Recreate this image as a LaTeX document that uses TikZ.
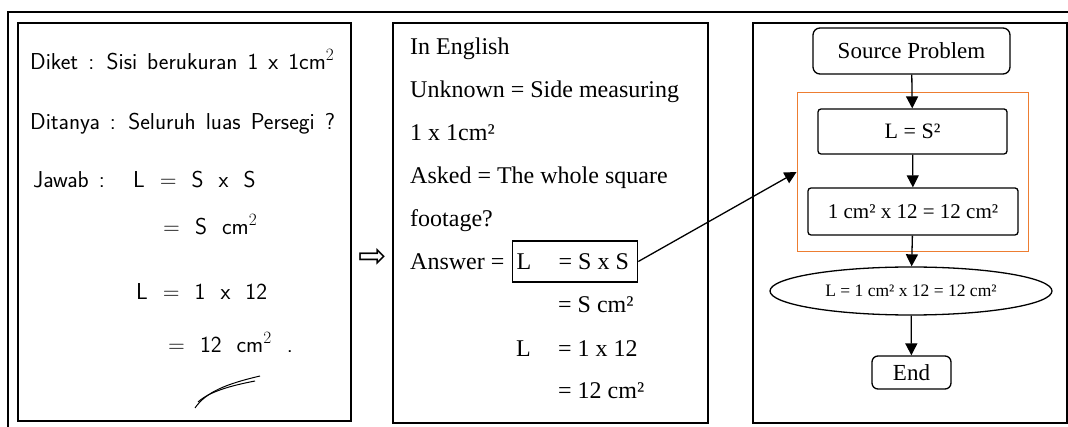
\documentclass[tikz,border=0pt]{standalone}
\usepackage{fontspec}
\setmainfont{Liberation Serif}
\newfontfamily\symfont{DejaVu Sans}
\usepackage{xcolor}
\usetikzlibrary{arrows.meta, shapes.geometric, fit}
\definecolor{grporange}{RGB}{237,125,49}
\tikzset{
  panel/.style={rectangle, draw, line width=1.5pt, inner sep=0pt},
  hand/.style={anchor=base west, inner sep=0pt,
               font=\sffamily\fontsize{23}{23}\selectfont,
               execute at begin node={\spaceskip=10pt\relax}},
  handmath/.style={hand, execute at begin node={\spaceskip=15pt\relax}},
  txt/.style={anchor=base west, inner sep=0pt, font=\fontsize{24}{24}\selectfont},
  term/.style={rectangle, draw, rounded corners=7pt, line width=1.3pt, inner sep=0pt,
               font=\fontsize{23}{23}\selectfont},
  proc/.style={rectangle, draw, rounded corners=3pt, line width=1.3pt, inner sep=0pt,
               font=\fontsize{22}{22}\selectfont},
  res/.style={ellipse, draw, line width=1.3pt, inner sep=0pt, minimum width=282pt,
              minimum height=48pt, font=\fontsize{17.5}{17.5}\selectfont},
  arc/.style={-{Triangle[width=12pt,length=12pt]}, line width=1.3pt}
}
\begin{document}
\begin{tikzpicture}[x=1pt, y=-1pt]
  \useasboundingbox (0,0) rectangle (1068,427);
  \draw[line width=1.3pt] (8,427) -- (8,12) -- (1068,12);
  % three panels
  \node[panel, minimum width=333pt, minimum height=398pt] (hw) at (184.5,222) {};
  \node[panel, minimum width=315pt, minimum height=400pt] (en) at (550.5,223) {};
  \node[panel, minimum width=314pt, minimum height=400pt] (fc) at (910,223) {};
  % handwritten answer
  \node[hand] (h1) at (30,70) {Diket : Sisi berukuran 1 x 1cm$^2$};
  \node[hand] (h2) at (30,130) {Ditanya : Seluruh luas Persegi ?};
  \node[hand] (h3) at (33,188) {Jawab :};
  \node[handmath] (h3b) at (133,188) {L = S x S};
  \node[handmath] (h4) at (163,235) {= S cm$^2$};
  \node[handmath] (h5) at (136,300) {L = 1 x 12};
  \node[handmath] (h6) at (168,353) {= 12 cm$^2$ .};
  \draw[line width=1pt] (195,408) .. controls (206,392) and (226,384) .. (260,376);
  \draw[line width=1pt] (198,402) .. controls (209,392) and (229,386) .. (255,381);
  \node[inner sep=0pt, font=\symfont\fontsize{34}{34}\selectfont] (imp) at (373,258) {⇨};
  % translation
  \node[txt] (e1) at (410,55) {In English};
  \node[txt] (e2) at (410,98) {Unknown = Side measuring};
  \node[txt] (e3) at (410,141) {1 x 1cm²};
  \node[txt] (e4) at (410,184) {Asked = The whole square};
  \node[txt] (e5) at (410,227) {footage?};
  \node[txt] (e6) at (410,270) {Answer =};
  \node[txt, draw, line width=1.3pt, inner xsep=4pt, inner ysep=0pt, text height=29pt,
        text depth=12pt] (ans) at (512,270) {\makebox[117pt][l]{\makebox[42pt][l]{L}= S x S}};
  \node[txt] (e7) at (558,313) {= S cm²};
  \node[txt] (e8a) at (516,356) {L};
  \node[txt] (e8) at (558,356) {= 1 x 12};
  \node[txt] (e9) at (558,399) {= 12 cm²};
  % flowchart
  \node[term, minimum width=197pt, minimum height=46pt] (src) at (911.5,51) {Source Problem};
  \node[proc, minimum width=189pt, minimum height=45pt] (sq) at (912.5,131.5) {L = S²};
  \node[proc, minimum width=210pt, minimum height=47pt, font=\fontsize{21}{21}\selectfont]
        (calc) at (913,211.5) {1 cm² x 12 = 12 cm²};
  \node[draw=grporange, line width=1.6pt, fit=(sq)(calc), inner xsep=10pt, inner ysep=16pt] (grp) {};
  \node[res] (out) at (911,291) {L = 1 cm² x 12 = 12 cm²};
  \node[term, rounded corners=6pt, minimum width=79pt, minimum height=33pt] (fin) at (911.5,372.5) {End};
  \draw[arc] (src) -- (sq);
  \draw[arc] (sq) -- (calc);
  \draw[arc] (calc) -- (out);
  \draw[arc] (out) -- (fin);
  \draw[arc] (ans.east) -- (grp.west);
\end{tikzpicture}
\end{document}
